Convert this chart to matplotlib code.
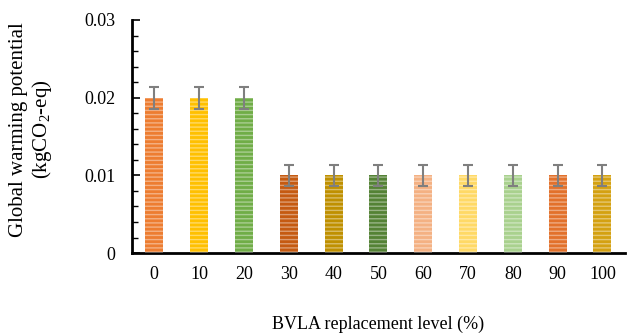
import matplotlib.pyplot as plt
import numpy as np

plt.rcParams['font.family'] = ['Liberation Serif', 'DejaVu Serif']
plt.rcParams['mathtext.fontset'] = 'custom'
plt.rcParams['mathtext.rm'] = 'Liberation Serif'

levels = ['0', '10', '20', '30', '40', '50', '60', '70', '80', '90', '100']
gwp = [0.02, 0.02, 0.02, 0.01, 0.01, 0.01, 0.01, 0.01, 0.01, 0.01, 0.01]
gwp_err = [0.0014] * 11
colors = ['#ED7D31', '#FFC000', '#70AD47', '#C55A11', '#BF9000', '#548235',
          '#F4B183', '#FFD966', '#A9D18E', '#E2712B', '#D4A111']

fig, ax = plt.subplots(figsize=(6.28, 3.33), dpi=100)
fig.subplots_adjust(left=0.21, right=0.995, top=0.94, bottom=0.24)

x = np.arange(len(levels))
ax.bar(x, gwp, width=0.4, color=colors, edgecolor='none', zorder=2)
# striped texture on top of the fill
plt.rcParams['hatch.linewidth'] = 1.0
ax.bar(x, gwp, width=0.4, color='none', edgecolor=(1, 1, 1, 0.4),
       linewidth=0, hatch='----', zorder=3)
ax.errorbar(x, gwp, yerr=gwp_err, fmt='none', ecolor='#7f7f7f',
            elinewidth=1.5, capsize=3.6, capthick=1.5, zorder=4)

ax.set_xlim(-0.5, len(levels) - 0.5)
ax.set_ylim(0, 0.03)
ax.set_yticks([0, 0.01, 0.02, 0.03])
ax.set_yticklabels(['0', '0.01', '0.02', '0.03'])
ax.set_yticks(np.arange(0, 0.0301, 0.002), minor=True)
ax.set_xticks(x)
ax.set_xticklabels(levels)
ax.tick_params(axis='x', length=0, labelsize=13, pad=9)
ax.tick_params(axis='y', which='major', direction='in', length=6, width=1.2,
               labelsize=13, pad=12)
ax.tick_params(axis='y', which='minor', direction='in', length=4, width=1.0)

for side in ['top', 'right']:
    ax.spines[side].set_visible(False)
for side in ['left', 'bottom']:
    ax.spines[side].set_linewidth(2)

ax.set_ylabel('Global warming potential\n(kgCO$_2$-eq)', fontsize=15,
              linespacing=1.15)
ax.yaxis.set_label_coords(-0.157, 0.53)
ax.set_xlabel('BVLA replacement level (%)', fontsize=13, labelpad=24)

plt.savefig('out.png', dpi=100)
